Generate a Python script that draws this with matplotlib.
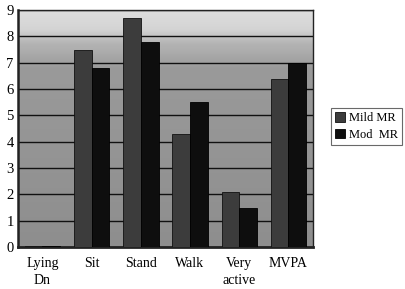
import numpy as np
import matplotlib
matplotlib.use("Agg")
import matplotlib.pyplot as plt
from matplotlib.colors import LinearSegmentedColormap

categories = ["Lying\nDn", "Sit", "Stand", "Walk", "Very\nactive", "MVPA"]
mild_mr = [0.05, 7.5, 8.7, 4.3, 2.1, 6.4]
mod_mr = [0.05, 6.8, 7.8, 5.5, 1.5, 7.0]
yticks = [0, 1, 2, 3, 4, 5, 6, 7, 8, 9]

plt.rcParams['font.family'] = ['Liberation Serif', 'DejaVu Serif']

fig = plt.figure(figsize=(4.05, 2.89), dpi=100)
ax = fig.add_axes([0.044, 0.145, 0.729, 0.82])

n = len(categories)
x = np.arange(n)
w = 0.36

# background gradient: lighter at top
grad = np.linspace(0, 1, 256).reshape(-1, 1)
cmap = LinearSegmentedColormap.from_list("bg", [(0, "#8e8e8e"), (0.75, "#9a9a9a"), (0.86, "#b4b4b4"), (0.92, "#d4d4d4"), (1.0, "#dedede")])
ax.imshow(grad, aspect='auto', cmap=cmap, origin='lower',
          extent=[-0.5, n - 0.5, 0, 9], zorder=0)

for y in yticks:
    ax.axhline(y, color="#111111", lw=1.0, zorder=1)

ax.bar(x - w / 2, mild_mr, w, color="#3c3c3c", edgecolor="#111111", lw=0.6, zorder=3, label="Mild MR")
ax.bar(x + w / 2, mod_mr, w, color="#0e0e0e", edgecolor="#000000", lw=0.6, zorder=3, label="Mod  MR")

ax.set_xlim(-0.5, n - 0.5)
ax.set_ylim(0, 9)
ax.set_yticks(yticks)
ax.set_yticklabels([str(v) for v in yticks], fontsize=10.5)
ax.set_xticks(x)
ax.set_xticklabels(categories, fontsize=10, linespacing=1.4)
ax.tick_params(axis='x', length=0, pad=7)
ax.tick_params(axis='y', length=0, pad=3)
for s in ax.spines.values():
    s.set_color("#222222")
    s.set_linewidth(1.0)
ax.spines['left'].set_linewidth(1.8)
ax.spines['bottom'].set_linewidth(2.0)

leg = fig.legend(loc="upper left", bbox_to_anchor=(0.818, 0.625), fontsize=9,
                 frameon=True, fancybox=False, edgecolor="#444444",
                 handlelength=0.8, handleheight=0.8, handletextpad=0.3,
                 borderpad=0.3, labelspacing=0.35, borderaxespad=0)
leg.get_frame().set_linewidth(0.8)

fig.savefig("out.png", dpi=100)
